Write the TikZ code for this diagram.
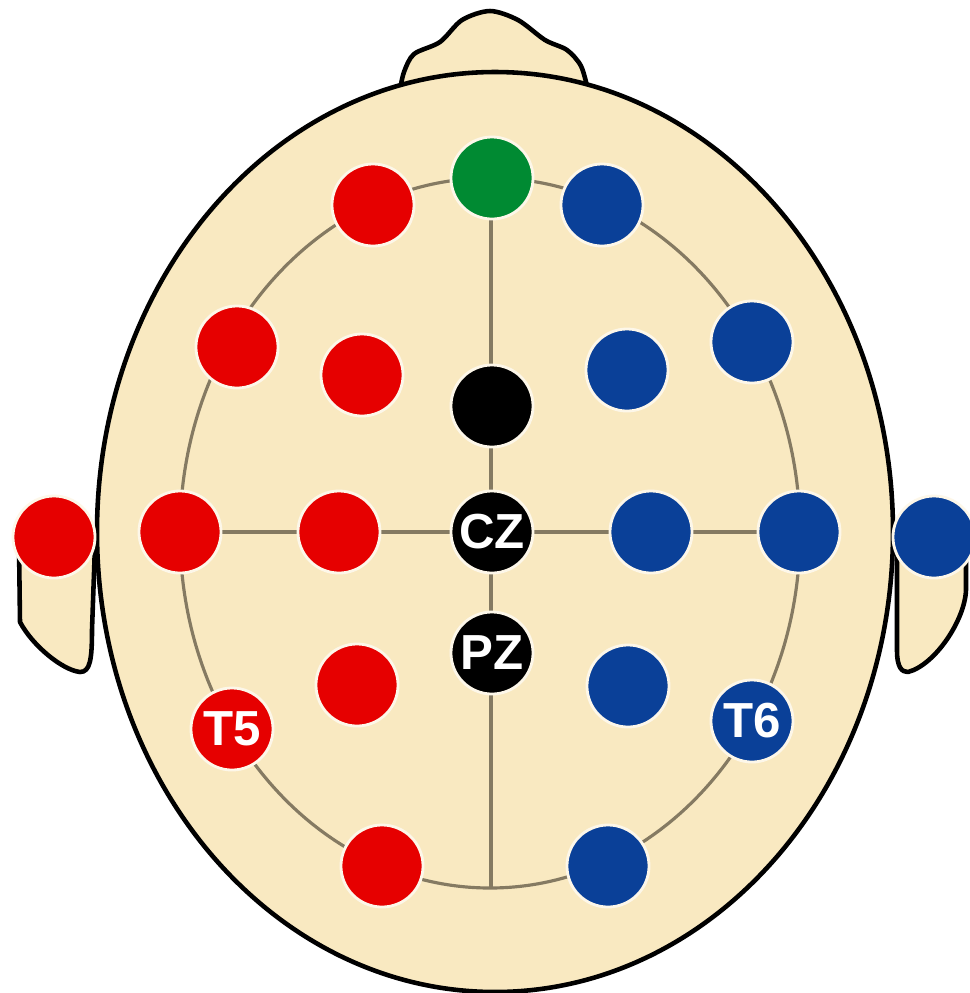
\documentclass[tikz,border=0pt]{standalone}
\usepackage{fontspec}
\newfontfamily\labelfont{Liberation Sans}
\usetikzlibrary{positioning}

\definecolor{skin}{RGB}{249,233,193}
\definecolor{scalpline}{RGB}{133,122,98}
\definecolor{leftred}{RGB}{230,0,0}
\definecolor{rightblue}{RGB}{10,64,152}
\definecolor{refgreen}{RGB}{0,138,50}

\begin{document}
\begin{tikzpicture}[
    x=0.01cm, y=-0.01cm,
    outline/.style={draw=black, line width=1.3pt, fill=skin, line join=round},
    grid/.style={draw=scalpline, line width=0.9pt},
    electrode/.style={circle, minimum size=0.82cm, inner sep=0pt, draw=white!65!skin, line width=0.8pt,
        text=white, font=\labelfont\bfseries\fontsize{14}{14}\selectfont},
    lefte/.style={electrode, fill=leftred},
    righte/.style={electrode, fill=rightblue},
    mide/.style={electrode, fill=black}
]
    \useasboundingbox (0,0) rectangle (970,993);

    % Ears and nose, drawn before the head so it covers their roots
    \draw[outline] (19,545) -- (20,622) .. controls (32,645) and (62,670) .. (80,672)
        .. controls (90,672) and (92,660) .. (92,630) -- (95,545) -- cycle;
    \draw[outline] (897,545) -- (897,650) .. controls (897,668) and (902,672) .. (908,672)
        .. controls (935,665) and (965,620) .. (966,590) -- (966,545) -- cycle;
    \draw[outline] plot[smooth] coordinates {(400,90) (404,72) (414,54) (440,42) (462,20) (490,11)
        (518,20) (545,40) (567,50) (581,66) (588,90)} -- cycle;

    % Head
    \draw[outline] (495,532) ellipse [x radius=398, y radius=460];

    % Scalp lines
    \coordinate (top) at (491,178);
    \coordinate (bottom) at (491,888);
    \coordinate (leftend) at (180,532);
    \coordinate (rightend) at (800,532);
    \draw[grid] (490,533) ellipse [x radius=310, y radius=355];
    \draw[grid] (top) -- (bottom);
    \draw[grid] (leftend) -- (rightend);

    % Midline electrodes
    \node[electrode, fill=refgreen] (fpz) at (492,178) {};
    \node[mide] (fz) at (492,406) {};
    \node[mide] (cz) at (492,532) {CZ};
    \node[mide] (pz) at (492,653) {PZ};

    % Left hemisphere
    \node[lefte] (fp1) at (373,205) {};
    \node[lefte] (f7) at (237,347) {};
    \node[lefte] (f3) at (362,375) {};
    \node[lefte] (a1) at (54,537) {};
    \node[lefte] (t3) at (180,532) {};
    \node[lefte] (c3) at (339,532) {};
    \node[lefte] (p3) at (357,685) {};
    \node[lefte] (t5) at (232,729) {T5};
    \node[lefte] (o1) at (382,866) {};

    % Right hemisphere
    \node[righte] (fp2) at (602,205) {};
    \node[righte] (f8) at (752,342) {};
    \node[righte] (f4) at (627,370) {};
    \node[righte] (a2) at (934,537) {};
    \node[righte] (t4) at (799,532) {};
    \node[righte] (c4) at (651,532) {};
    \node[righte] (p4) at (628,686) {};
    \node[righte] (t6) at (752,721) {T6};
    \node[righte] (o2) at (608,866) {};

\end{tikzpicture}
\end{document}
